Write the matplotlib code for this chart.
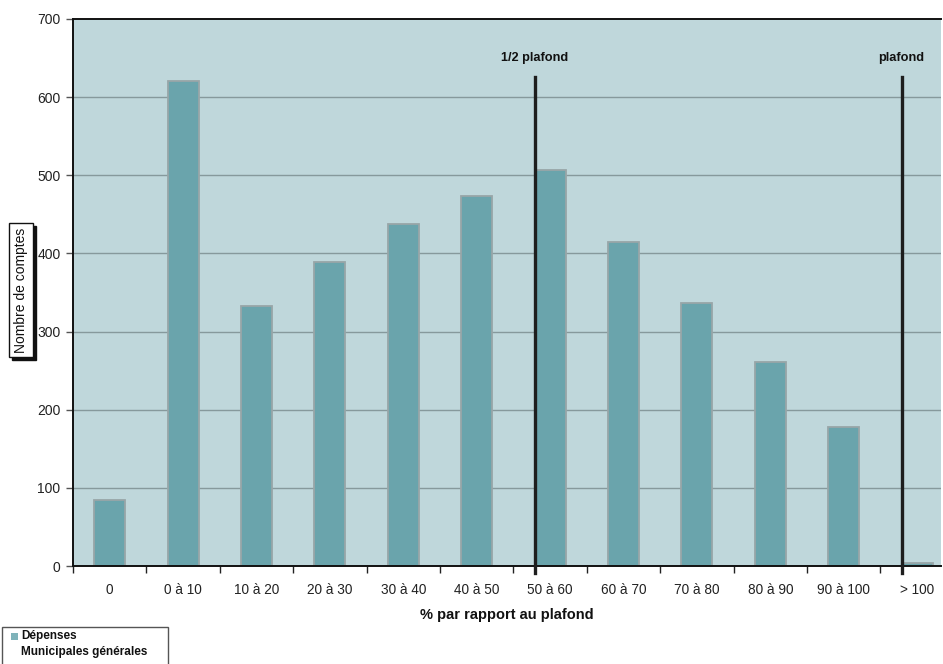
import matplotlib
matplotlib.use("Agg")
import matplotlib.pyplot as plt
from matplotlib.patches import Rectangle

plt.rcParams['font.family'] = ['Liberation Sans', 'DejaVu Sans']

categories = ["0", "0 à 10", "10 à 20", "20 à 30", "30 à 40", "40 à 50",
              "50 à 60", "60 à 70", "70 à 80", "80 à 90", "90 à 100", "> 100"]
values = [85, 621, 333, 389, 438, 474, 507, 414, 336, 261, 178, 4]
series_name = "Dépenses\nMunicipales générales"
yticks = [0, 100, 200, 300, 400, 500, 600, 700]
markers = [("1/2 plafond", 6), ("plafond", 11)]  # label, category index

W, H = 943, 664
fig = plt.figure(figsize=(W / 100, H / 100), dpi=100)
left, right, top, bottom = 73, 941, 19, 566
ax = fig.add_axes([left / W, 1 - bottom / H, (right - left) / W, (bottom - top) / H])

bg = "#BFD7DB"
bar_color = "#6AA4AC"
ax.set_facecolor(bg)

bw = 0.42
x = list(range(len(categories)))
ax.bar(x, values, width=bw, color=bar_color, edgecolor="#98A6A8", linewidth=1.3, zorder=3)

ax.set_yticks(yticks)
ax.set_xticks(x)
ax.set_xticklabels(categories)
ax.set_xticks([i - 0.5 for i in range(len(categories) + 1)], minor=True)
cat_w = 73.4
ax.set_xlim(-0.5, -0.5 + (right - left) / cat_w)
ax.set_ylim(0, 700)
ax.tick_params(axis="x", which="major", length=0, pad=12, labelsize=9.8, labelcolor="#222222")
ax.tick_params(axis="x", which="minor", length=5, width=1, color="#222222", direction="out")
ax.tick_params(axis="y", length=5, width=1, color="#555555", labelsize=10, labelcolor="#222222", pad=4)

for yv in yticks[1:-1]:
    ax.axhline(yv, color="#86999C", linewidth=1, zorder=1)

for s in ["left", "bottom", "top"]:
    ax.spines[s].set_color("#111111")
    ax.spines[s].set_linewidth(1.4)
ax.spines["right"].set_visible(False)
ax.spines["bottom"].set_zorder(5)

for label, idx in markers:
    xl = idx - bw / 2
    ax.plot([xl, xl], [-9, 626], color="#1E1E1E", linewidth=2.4, zorder=6, clip_on=False)
    ax.text(xl, 650, label, ha="center", va="center", fontsize=9.2, fontweight="bold", color="#111111")

ax.set_xlabel("% par rapport au plafond", fontsize=10.5, fontweight="bold", labelpad=8, color="#111111")

# y label with shadowed box
bx0, bx1, by0, by1 = 9, 33, 223, 357
fig.patches.append(Rectangle(((bx0 + 3) / W, 1 - (by1 + 3) / H), (bx1 - bx0) / W, (by1 - by0) / H,
                             transform=fig.transFigure, facecolor="#111111", edgecolor="#111111", linewidth=1))
fig.patches.append(Rectangle((bx0 / W, 1 - by1 / H), (bx1 - bx0) / W, (by1 - by0) / H,
                             transform=fig.transFigure, facecolor="white", edgecolor="#111111", linewidth=1))
fig.text((bx0 + bx1) / 2 / W + 0.5 / W, 1 - (by0 + by1) / 2 / H, "Nombre de comptes", rotation=90,
         ha="center", va="center", fontsize=10, color="#111111")

# legend box
fig.patches.append(Rectangle((2 / W, 1 - 665 / H), 166 / W, 38 / H, transform=fig.transFigure,
                             facecolor="white", edgecolor="#555555", linewidth=1))
fig.patches.append(Rectangle((11 / W, 1 - 640 / H), 7 / W, 7 / H, transform=fig.transFigure,
                             facecolor="#7FB3BA", edgecolor="none"))
lines = series_name.split("\n")
fig.text(21 / W, 1 - 636 / H, lines[0], ha="left", va="center", fontsize=8.5, fontweight="bold", color="#111111")
fig.text(21 / W, 1 - 652 / H, lines[1], ha="left", va="center", fontsize=8.5, fontweight="bold", color="#111111")

fig.savefig("out.png", dpi=100, facecolor="white")
